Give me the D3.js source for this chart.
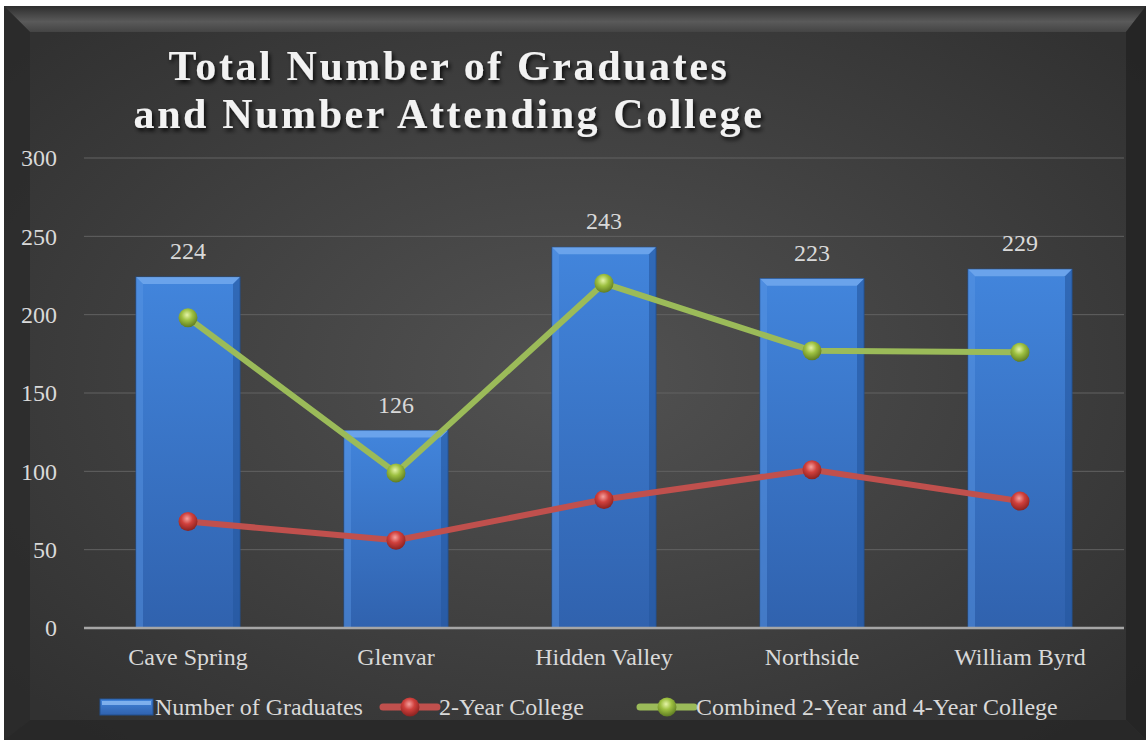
<!DOCTYPE html>
<html>
<head>
<meta charset="utf-8">
<script src="https://cdn.jsdelivr.net/npm/d3@7"></script>
<style>
  body { margin: 0; background: #fff; }
  svg { display: block; }
  text { font-family: "Liberation Serif", "Times New Roman", serif; }
</style>
</head>
<body>
<svg id="chart" width="1146" height="740"></svg>
<script>
const schools = ["Cave Spring", "Glenvar", "Hidden Valley", "Northside", "William Byrd"]
const graduates = [224, 126, 243, 223, 229]
const twoYear = [68, 56, 82, 101, 81]
const combined = [198, 99, 220, 177, 176]
const yTicks = [0, 50, 100, 150, 200, 250, 300]
const seriesNames = ["Number of Graduates", "2-Year College", "Combined 2-Year and 4-Year College"]

const width = 1146, height = 740
const margin = {top: 158, left: 84, right: 22, bottom: 112}
const fontSize = 24

const svg = d3.select("#chart")
const defs = svg.append("defs")

// background gradients
let bg = defs.append("radialGradient").attr("id", "bg")
    .attr("cx", "50%").attr("cy", "50%").attr("r", "65%")
bg.append("stop").attr("offset", "0%").attr("stop-color", "#525252")
bg.append("stop").attr("offset", "100%").attr("stop-color", "#313131")

let bevTop = defs.append("linearGradient").attr("id", "bevTop").attr("x1", 0).attr("y1", 0).attr("x2", 0).attr("y2", 1)
bevTop.append("stop").attr("offset", "0%").attr("stop-color", "#2e2e2e")
bevTop.append("stop").attr("offset", "60%").attr("stop-color", "#5a5a5a")
bevTop.append("stop").attr("offset", "100%").attr("stop-color", "#444")

let barGrad = defs.append("linearGradient").attr("id", "barGrad").attr("x1", 0).attr("y1", 0).attr("x2", 0).attr("y2", 1)
barGrad.append("stop").attr("offset", "0%").attr("stop-color", "#4285dc")
barGrad.append("stop").attr("offset", "100%").attr("stop-color", "#3062ae")

function sphere(id, light, mid, dark) {
    let g = defs.append("radialGradient").attr("id", id)
        .attr("cx", "45%").attr("cy", "35%").attr("r", "65%")
    g.append("stop").attr("offset", "0%").attr("stop-color", light)
    g.append("stop").attr("offset", "45%").attr("stop-color", mid)
    g.append("stop").attr("offset", "100%").attr("stop-color", dark)
}
sphere("redBall", "#f3a09e", "#d0403c", "#8a2220")
sphere("greenBall", "#e4f3a6", "#9dc040", "#5f7c22")

let shadow = defs.append("filter").attr("id", "tshadow").attr("x", "-10%").attr("y", "-10%").attr("width", "120%").attr("height", "140%")
shadow.append("feDropShadow").attr("dx", 2).attr("dy", 3).attr("stdDeviation", 2).attr("flood-color", "#000").attr("flood-opacity", 0.8)

// frame
const fx = 4, fy = 6, fw = width - fx, fh = height - fy, bev = 26
svg.append("rect").attr("x", fx).attr("y", fy).attr("width", fw).attr("height", fh).attr("fill", "url(#bg)")
svg.append("path")
    .attr("d", `M${fx},${fy}H${fx + fw}L${fx + fw - bev + 6},${fy + bev}H${fx + bev}Z`)
    .attr("fill", "url(#bevTop)")
svg.append("path")
    .attr("d", `M${fx},${fy}L${fx + bev},${fy + bev}V${fy + fh - bev + 6}L${fx},${fy + fh}Z`)
    .attr("fill", "#2b2b2b").attr("opacity", 0.8)
svg.append("path")
    .attr("d", `M${fx + fw},${fy}L${fx + fw - bev + 6},${fy + bev}V${fy + fh - bev + 6}L${fx + fw},${fy + fh}Z`)
    .attr("fill", "#252525").attr("opacity", 0.9)
svg.append("path")
    .attr("d", `M${fx},${fy + fh}L${fx + bev},${fy + fh - bev + 6}H${fx + fw - bev + 6}L${fx + fw},${fy + fh}Z`)
    .attr("fill", "#282828").attr("opacity", 0.9)

// title
const title = svg.append("text")
    .attr("text-anchor", "middle")
    .attr("fill", "#f2f2f2")
    .attr("font-size", 42)
    .attr("font-weight", "bold")
    .attr("letter-spacing", 2.6)
    .attr("filter", "url(#tshadow)")
title.append("tspan").attr("x", 449).attr("y", 80).text("Total Number of Graduates")
title.append("tspan").attr("x", 449).attr("y", 128).text("and Number Attending College")

// scales
const x = d3.scaleBand()
    .domain(schools)
    .range([margin.left, width - margin.right])
    .paddingInner(0.5)
    .paddingOuter(0.25)
const y = d3.scaleLinear()
    .domain([0, 300])
    .range([height - margin.bottom, margin.top])

// grid
svg.append("g")
    .selectAll("line")
    .data(yTicks.filter(d => d > 0))
    .join("line")
    .attr("x1", margin.left).attr("x2", x.range()[1])
    .attr("y1", d => y(d)).attr("y2", d => y(d))
    .attr("stroke", "#626262").attr("stroke-width", 1)

// y axis
const yAxis = svg.append("g")
    .attr("transform", `translate(${margin.left},0)`)
    .call(d3.axisLeft(y).tickValues(yTicks).tickSize(0).tickPadding(27))
yAxis.select(".domain").remove()
yAxis.selectAll("text").attr("fill", "#d9d9d9").attr("font-size", fontSize)
    .attr("font-family", "Liberation Serif, serif")

// bars
const bw = x.bandwidth(), b = 7
const bars = svg.append("g")
    .selectAll("g")
    .data(schools)
    .join("g")
bars.append("rect")
    .attr("x", d => x(d))
    .attr("y", (d, i) => y(graduates[i]))
    .attr("width", bw)
    .attr("height", (d, i) => y(0) - y(graduates[i]))
    .attr("fill", "url(#barGrad)")
    .attr("stroke", "#23508f").attr("stroke-width", 1)
bars.append("path")
    .attr("d", (d, i) => {
        let x0 = x(d), y0 = y(graduates[i])
        return `M${x0},${y0}H${x0 + bw}L${x0 + bw - b},${y0 + b}H${x0 + b}Z`
    })
    .attr("fill", "#78aef0").attr("opacity", 0.75)
bars.append("path")
    .attr("d", (d, i) => {
        let x0 = x(d), y0 = y(graduates[i])
        return `M${x0},${y0}L${x0 + b},${y0 + b}V${y(0)}H${x0}Z`
    })
    .attr("fill", "#5b97e4").attr("opacity", 0.45)
bars.append("path")
    .attr("d", (d, i) => {
        let x0 = x(d) + bw, y0 = y(graduates[i])
        return `M${x0},${y0}L${x0 - b},${y0 + b}V${y(0)}H${x0}Z`
    })
    .attr("fill", "#25569e").attr("opacity", 0.6)

// value labels
svg.append("g")
    .selectAll("text")
    .data(schools)
    .join("text")
    .attr("x", d => x(d) + bw / 2)
    .attr("y", (d, i) => y(graduates[i]) - 18)
    .attr("text-anchor", "middle")
    .attr("fill", "#d9d9d9").attr("font-size", fontSize)
    .text((d, i) => graduates[i])

// x axis
svg.append("line")
    .attr("x1", margin.left).attr("x2", x.range()[1])
    .attr("y1", y(0)).attr("y2", y(0))
    .attr("stroke", "#a6a6a6").attr("stroke-width", 2.5)
svg.append("g")
    .selectAll("text")
    .data(schools)
    .join("text")
    .attr("x", d => x(d) + bw / 2)
    .attr("y", y(0) + 37)
    .attr("text-anchor", "middle")
    .attr("fill", "#d9d9d9").attr("font-size", fontSize)
    .text(d => d)

// lines
const line = d3.line()
    .x((d, i) => x(schools[i]) + bw / 2)
    .y(d => y(d))
function drawSeries(values, color, ball) {
    svg.append("path")
        .datum(values)
        .attr("d", line)
        .attr("fill", "none")
        .attr("stroke", color).attr("stroke-width", 6)
        .attr("stroke-linejoin", "round")
    svg.append("g")
        .selectAll("circle")
        .data(values)
        .join("circle")
        .attr("cx", (d, i) => x(schools[i]) + bw / 2)
        .attr("cy", d => y(d))
        .attr("r", 9.5)
        .attr("fill", `url(#${ball})`)
}
drawSeries(twoYear, "#c0504d", "redBall")
drawSeries(combined, "#9bbb59", "greenBall")

// legend
const ly = 707
const legend = svg.append("g")
let lg = legend.append("g")
lg.append("rect").attr("x", 100).attr("y", ly - 8).attr("width", 53).attr("height", 16)
    .attr("fill", "url(#barGrad)").attr("stroke", "#23508f")
lg.append("rect").attr("x", 102).attr("y", ly - 6).attr("width", 49).attr("height", 4)
    .attr("fill", "#8fbdf4").attr("opacity", 0.8)
legend.append("text").attr("x", 155).attr("y", ly + 8).attr("fill", "#d9d9d9").attr("font-size", fontSize).text(seriesNames[0])

function legendLine(x0, color, ball, name) {
    legend.append("line").attr("x1", x0).attr("x2", x0 + 54).attr("y1", ly).attr("y2", ly)
        .attr("stroke", color).attr("stroke-width", 7).attr("stroke-linecap", "round")
    legend.append("circle").attr("cx", x0 + 27).attr("cy", ly).attr("r", 9.5).attr("fill", `url(#${ball})`)
    legend.append("text").attr("x", x0 + 56).attr("y", ly + 8).attr("fill", "#d9d9d9").attr("font-size", fontSize).text(name)
}
legendLine(383, "#c0504d", "redBall", seriesNames[1])
legendLine(640, "#9bbb59", "greenBall", seriesNames[2])
</script>
</body>
</html>
